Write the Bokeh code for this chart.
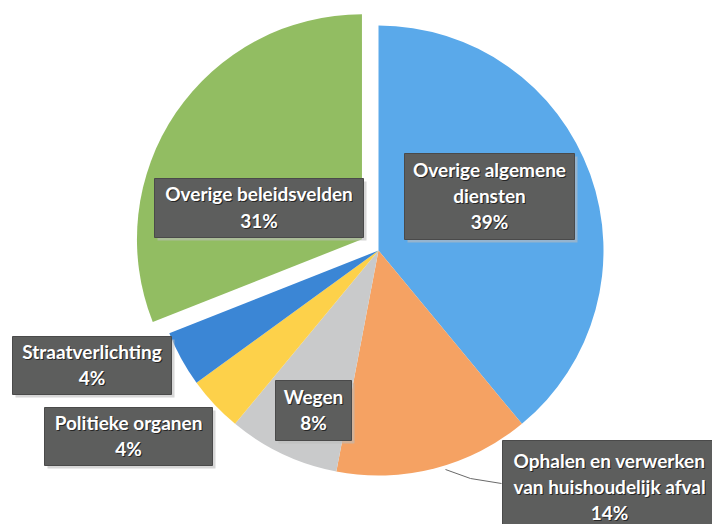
import math
from bokeh.plotting import figure
from bokeh.models import Range1d, ColumnDataSource
from bokeh.embed import file_html
from bokeh.resources import INLINE
from bokeh.core.properties import value

# ---- data ----
categories = ["Overige algemene diensten",
              "Ophalen en verwerken van huishoudelijk afval",
              "Wegen",
              "Politieke organen",
              "Straatverlichting",
              "Overige beleidsvelden"]
label_names = ["Overige algemene\ndiensten",
               "Ophalen en verwerken\nvan huishoudelijk afval",
               "Wegen",
               "Politieke organen",
               "Straatverlichting",
               "Overige beleidsvelden"]
shares = [39, 14, 8, 4, 4, 31]

# ---- style / layout ----
colors = ["#5aa9ea", "#f5a263", "#c9cacb", "#fdd14a", "#3b86d5", "#92bd62"]
explode = [0, 0, 0, 0, 0, 20]
W, H = 712, 524
cx, cy_page, R = 378, 250, 225

def Y(ypage):
    return 524 - ypage

# label boxes in page coordinates: (left, right, top, bottom)
boxes = [(404, 574, 153, 239),
         (502, 730, 440, 540),
         (275, 351, 380, 440),
         (44, 212, 407, 465),
         (12, 171, 336, 394),
         (154, 363, 178, 237)]

p = figure(width=W, height=H, output_backend="svg", toolbar_location=None,
           x_range=Range1d(0, W), y_range=Range1d(524 - H, 524),
           min_border=0, outline_line_color=None, background_fill_color="white",
           border_fill_color="white")
p.axis.visible = False
p.grid.visible = False

total = float(sum(shares))
starts, ends, xs, ys = [], [], [], []
cum = 0.0
for s, e in zip(shares, explode):
    a0 = math.pi / 2 - 2 * math.pi * (cum + s) / total
    a1 = math.pi / 2 - 2 * math.pi * cum / total
    mid = (a0 + a1) / 2
    starts.append(a0)
    ends.append(a1)
    xs.append(cx + e * math.cos(mid))
    ys.append(Y(cy_page) + e * math.sin(mid))
    cum += s

src = ColumnDataSource(dict(x=xs, y=ys, start=starts, end=ends, color=colors,
                            cat=categories))
p.wedge(x="x", y="y", radius=R, start_angle="start", end_angle="end",
        fill_color="color", line_color=None, source=src)

# leader line for the orange slice label
p.line(x=[445, 470, 501], y=[Y(469), Y(478), Y(483)], line_color="#6a6a6a",
       line_width=1)

# label boxes
lefts = [b[0] for b in boxes]
rights = [b[1] for b in boxes]
tops = [Y(b[2]) for b in boxes]
bottoms = [Y(b[3]) for b in boxes]
p.quad(left=[l + 3 for l in lefts], right=[r + 3 for r in rights],
       top=[t - 3 for t in tops], bottom=[b - 3 for b in bottoms],
       fill_color="#bdbdbd", fill_alpha=0.6, line_color=None)
p.quad(left=lefts, right=rights, top=tops, bottom=bottoms,
       fill_color="#5d5e5d", line_color="#4a4a4a", line_width=1)

texts = [f"{n}\n{s}%" for n, s in zip(label_names, shares)]
tx = [(b[0] + b[1]) / 2 for b in boxes]
tx[1] = 609
ty = [Y((b[2] + b[3]) / 2 - 1) for b in boxes]
ty[1] = Y(486)
common = dict(text_align="center", text_baseline="middle",
              text_font=value("Lato"), text_font_style="bold",
              text_font_size="19px", text_line_height=1.15)
p.text(x=[v + 1 for v in tx], y=[v - 1 for v in ty], text=texts,
       text_color="#262626", **common)
p.text(x=tx, y=ty, text=texts, text_color="white", **common)

open("out.html", "w").write(file_html(p, INLINE))
